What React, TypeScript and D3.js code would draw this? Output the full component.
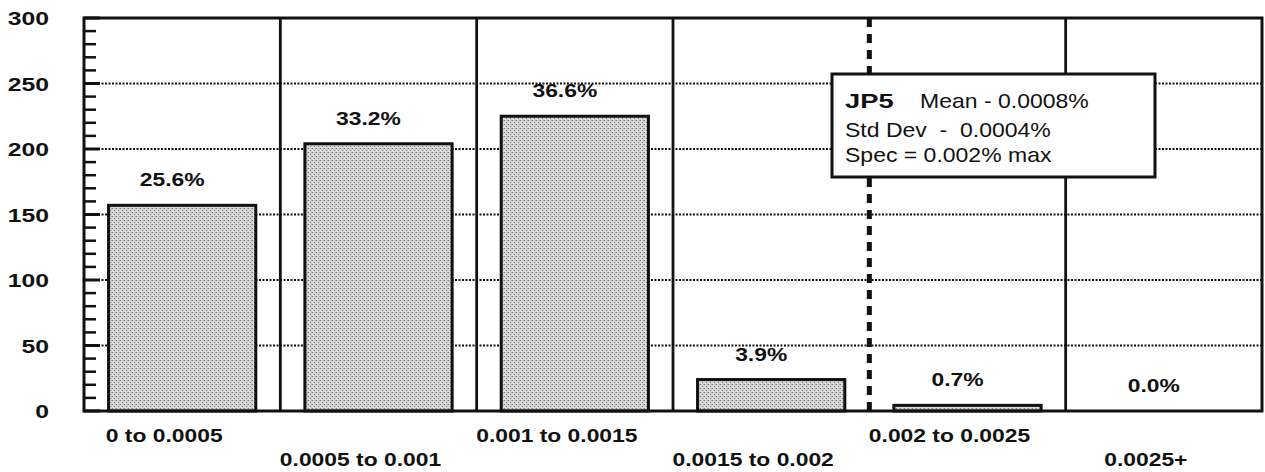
import * as React from 'react';
import * as d3 from 'd3';

// data
const categories = ['0 to 0.0005', '0.0005 to 0.001', '0.001 to 0.0015', '0.0015 to 0.002', '0.002 to 0.0025', '0.0025+'];
const counts = [157, 204, 225, 24, 4.3, 0];
const percents = ['25.6%', '33.2%', '36.6%', '3.9%', '0.7%', '0.0%'];
const yTicks = [0, 50, 100, 150, 200, 250, 300];
const specCategory = '0.002 to 0.0025';
const noteLines = ['Std Dev  -  0.0004%', 'Spec = 0.002% max'];

const width = 1265;
const height = 472;
const margin = {top: 18, right: 3, bottom: 61, left: 84};
const font = '"Liberation Sans", Arial, Helvetica, sans-serif';

const x = d3.scaleBand<string>()
  .domain(categories)
  .range([margin.left, width - margin.right]);

const xBar = d3.scaleBand<string>()
  .domain(categories)
  .range([margin.left, width - margin.right])
  .paddingInner(0.25)
  .paddingOuter(0.125);

const y = d3.scaleLinear()
  .domain([0, 300])
  .range([height - margin.bottom, margin.top]);

const minorTicks = d3.range(0, 301, 10).filter(v => v % 50 !== 0);

const Txt = (props: {x: number, y: number, sx?: number, size: number, bold?: boolean, anchor?: string, children: React.ReactNode}) => (
  <text
    transform={`translate(${props.x},${props.y}) scale(${props.sx ?? 1.27},1)`}
    textAnchor={props.anchor ?? 'middle'}
    fontFamily={font}
    fontSize={props.size}
    fontWeight={props.bold ? 'bold' : 'normal'}
    style={{whiteSpace: 'pre'}}
    fill="#111">
    {props.children}
  </text>
);

export default function App() {
  const [x0, x1] = x.range();
  const y0 = y(0);
  const yTop = y(300);

  return (
    <>
      <style>{'body{margin:0}'}</style>
      <svg width={width} height={height} style={{display: 'block', background: '#fff'}}>
        <defs>
          <pattern id="stipple" width="4" height="4" patternUnits="userSpaceOnUse">
            <rect width="4" height="4" fill="#d4d4d4"/>
            <rect x="0" y="0" width="1" height="1" fill="#7e7e7e"/>
            <rect x="2" y="2" width="1" height="1" fill="#7e7e7e"/>
            <rect x="3" y="0" width="1" height="1" fill="#aaaaaa"/>
            <rect x="1" y="3" width="1" height="1" fill="#ececec"/>
          </pattern>
        </defs>

        {/* dotted gridlines */}
        {yTicks.filter(v => v > 0 && v < 300).map(v => (
          <line key={v} x1={x0} x2={x1} y1={y(v)} y2={y(v)}
            stroke="#111" strokeWidth={1.8} strokeDasharray="2,1.5"/>
        ))}

        {/* category dividers */}
        {categories.slice(1).map(c => c === specCategory ? (
          <line key={c} x1={x(c)!} x2={x(c)!} y1={yTop} y2={y0}
            stroke="#111" strokeWidth={5} strokeDasharray="9,7"/>
        ) : (
          <line key={c} x1={x(c)!} x2={x(c)!} y1={yTop} y2={y0} stroke="#111" strokeWidth={2.8}/>
        ))}

        {/* bars */}
        {categories.map((c, i) => (
          <rect key={c} x={xBar(c)!} width={xBar.bandwidth()}
            y={y(counts[i])} height={y0 - y(counts[i])}
            fill={counts[i] > 0 ? 'url(#stipple)' : 'none'}
            stroke={counts[i] > 0 ? '#111' : 'none'} strokeWidth={3}/>
        ))}

        {/* bar percentages */}
        {categories.map((c, i) => (
          <Txt key={c} x={xBar(c)! + xBar.bandwidth() / 2 - 10} y={y(counts[i]) - 19} size={18} bold>
            {percents[i]}
          </Txt>
        ))}

        {/* frame */}
        <rect x={x0} y={yTop} width={x1 - x0} height={y0 - yTop} fill="none" stroke="#111" strokeWidth={3}/>

        {/* y ticks */}
        {minorTicks.map(v => (
          <line key={v} x1={x0} x2={x0 + 12} y1={y(v)} y2={y(v)} stroke="#111" strokeWidth={2.5}/>
        ))}
        {yTicks.map(v => (
          <line key={v} x1={x0} x2={x0 + 16} y1={y(v)} y2={y(v)} stroke="#111" strokeWidth={3}/>
        ))}
        {yTicks.map(v => (
          <Txt key={v} x={49} y={y(v) + 7} size={19} bold anchor="end" sx={1.3}>{v}</Txt>
        ))}

        {/* x labels, staggered */}
        {categories.map((c, i) => (
          <Txt key={c} x={x(c)! + x.bandwidth() / 2 - 18} y={i % 2 === 0 ? 442 : 466} size={18} bold>
            {c}
          </Txt>
        ))}

        {/* note box */}
        <rect x={832} y={74} width={323} height={103} fill="#fff" stroke="#111" strokeWidth={3}/>
        <Txt x={845} y={108} size={21} bold anchor="start" sx={1.3}>JP5</Txt>
        <Txt x={920} y={108} size={20} anchor="start" sx={1.15}>Mean - 0.0008%</Txt>
        {noteLines.map((t, i) => (
          <Txt key={t} x={845} y={137 + i * 25} size={20} anchor="start" sx={1.15}>{t}</Txt>
        ))}
      </svg>
    </>
  );
}
